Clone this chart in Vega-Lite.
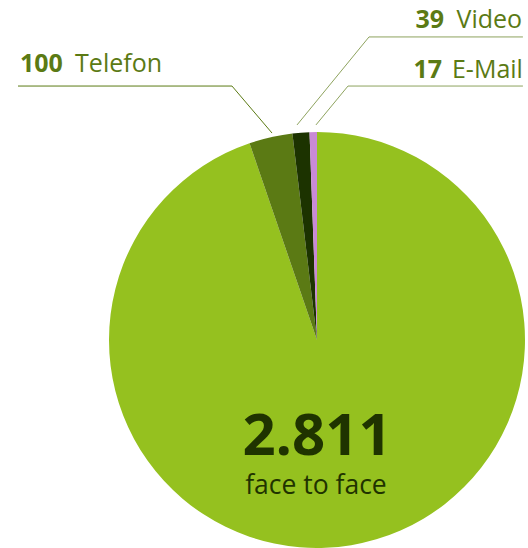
{
  "$schema": "https://vega.github.io/schema/vega-lite/v6.json",
  "width": 416,
  "height": 416,
  "autosize": {"type": "none"},
  "padding": {"left": 109, "right": 3, "top": 132, "bottom": 0},
  "background": "white",
  "config": {"view": {"stroke": null}, "font": "Open Sans"},
  "datasets": {
    "slices": [
      {"kanal": "face to face", "anzahl": 2811},
      {"kanal": "Telefon", "anzahl": 100},
      {"kanal": "Video", "anzahl": 39},
      {"kanal": "E-Mail", "anzahl": 17}
    ],
    "leaders": [
      {"kanal": "Telefon", "step": 1, "x": -1.4375, "y": 1.221},
      {"kanal": "Telefon", "step": 2, "x": -0.4087, "y": 1.221},
      {"kanal": "Telefon", "step": 3, "x": -0.2163, "y": 0.995},
      {"kanal": "Video", "step": 1, "x": 0.99, "y": 1.457},
      {"kanal": "Video", "step": 2, "x": 0.25, "y": 1.457},
      {"kanal": "Video", "step": 3, "x": -0.096, "y": 1.034},
      {"kanal": "E-Mail", "step": 1, "x": 0.99, "y": 1.221},
      {"kanal": "E-Mail", "step": 2, "x": 0.149, "y": 1.221},
      {"kanal": "E-Mail", "step": 3, "x": -0.005, "y": 1.034}
    ],
    "labels": [
      {"text": "100", "x": -1.428, "y": 1.288, "part": "num", "align": "left"},
      {"text": "Telefon", "x": -1.163, "y": 1.288, "part": "name", "align": "left"},
      {"text": "39", "x": 0.611, "y": 1.5, "part": "num", "align": "right"},
      {"text": "Video", "x": 0.986, "y": 1.5, "part": "name", "align": "right"},
      {"text": "17", "x": 0.601, "y": 1.26, "part": "num", "align": "right"},
      {"text": "E-Mail", "x": 0.99, "y": 1.26, "part": "name", "align": "right"}
    ],
    "center": [
      {"text": "2.811", "x": 0, "y": -0.553, "part": "num"},
      {"text": "face to face", "x": -0.005, "y": -0.74, "part": "name"}
    ]
  },
  "layer": [
    {
      "data": {"name": "slices"},
      "mark": {"type": "arc"},
      "encoding": {
        "theta": {"field": "anzahl", "type": "quantitative", "stack": true},
        "order": {"field": "anzahl", "type": "quantitative", "sort": "descending"},
        "color": {
          "field": "kanal",
          "type": "nominal",
          "scale": {
            "domain": ["face to face", "Telefon", "Video", "E-Mail"],
            "range": ["#95c11f", "#5b7a14", "#1c3300", "#c98ad6"]
          },
          "legend": null
        }
      }
    },
    {
      "data": {"name": "leaders"},
      "mark": {"type": "line", "strokeWidth": 1, "clip": false},
      "encoding": {
        "x": {"field": "x", "type": "quantitative", "scale": {"domain": [-1, 1], "nice": false, "zero": false}, "axis": null},
        "y": {"field": "y", "type": "quantitative", "scale": {"domain": [-1, 1], "nice": false, "zero": false}, "axis": null},
        "detail": {"field": "kanal"},
        "order": {"field": "step"},
        "stroke": {
          "field": "kanal",
          "type": "nominal",
          "scale": {"domain": ["Telefon", "Video", "E-Mail"], "range": ["#5b7a14", "#8ea35e", "#8ea35e"]},
          "legend": null
        }
      }
    },
    {
      "data": {"name": "labels"},
      "transform": [{"filter": "datum.align == 'left' && datum.part == 'num'"}],
      "mark": {"type": "text", "align": "left", "baseline": "alphabetic", "fontSize": 25, "fontWeight": "bold", "color": "#5b7a14", "clip": false},
      "encoding": {
        "x": {"field": "x", "type": "quantitative", "axis": null},
        "y": {"field": "y", "type": "quantitative", "axis": null},
        "text": {"field": "text"}
      }
    },
    {
      "data": {"name": "labels"},
      "transform": [{"filter": "datum.align == 'left' && datum.part == 'name'"}],
      "mark": {"type": "text", "align": "left", "baseline": "alphabetic", "fontSize": 25, "fontWeight": "normal", "color": "#5b7a14", "clip": false},
      "encoding": {
        "x": {"field": "x", "type": "quantitative", "axis": null},
        "y": {"field": "y", "type": "quantitative", "axis": null},
        "text": {"field": "text"}
      }
    },
    {
      "data": {"name": "labels"},
      "transform": [{"filter": "datum.align == 'right' && datum.part == 'num'"}],
      "mark": {"type": "text", "align": "right", "baseline": "alphabetic", "fontSize": 25, "fontWeight": "bold", "color": "#5b7a14", "clip": false},
      "encoding": {
        "x": {"field": "x", "type": "quantitative", "axis": null},
        "y": {"field": "y", "type": "quantitative", "axis": null},
        "text": {"field": "text"}
      }
    },
    {
      "data": {"name": "labels"},
      "transform": [{"filter": "datum.align == 'right' && datum.part == 'name'"}],
      "mark": {"type": "text", "align": "right", "baseline": "alphabetic", "fontSize": 25, "fontWeight": "normal", "color": "#5b7a14", "clip": false},
      "encoding": {
        "x": {"field": "x", "type": "quantitative", "axis": null},
        "y": {"field": "y", "type": "quantitative", "axis": null},
        "text": {"field": "text"}
      }
    },
    {
      "data": {"name": "center"},
      "transform": [{"filter": "datum.part == 'num'"}],
      "mark": {"type": "text", "align": "center", "baseline": "alphabetic", "fontSize": 58, "fontWeight": "bold", "color": "#1f3300"},
      "encoding": {
        "x": {"field": "x", "type": "quantitative", "axis": null},
        "y": {"field": "y", "type": "quantitative", "axis": null},
        "text": {"field": "text"}
      }
    },
    {
      "data": {"name": "center"},
      "transform": [{"filter": "datum.part == 'name'"}],
      "mark": {"type": "text", "align": "center", "baseline": "alphabetic", "fontSize": 26.5, "fontWeight": "normal", "color": "#1f3300"},
      "encoding": {
        "x": {"field": "x", "type": "quantitative", "axis": null},
        "y": {"field": "y", "type": "quantitative", "axis": null},
        "text": {"field": "text"}
      }
    }
  ]
}
